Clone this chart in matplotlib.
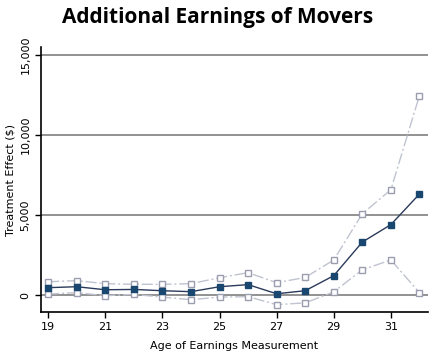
import matplotlib
matplotlib.use("Agg")
import matplotlib.pyplot as plt
from matplotlib.ticker import FuncFormatter

# data
ages = [19, 20, 21, 22, 23, 24, 25, 26, 27, 28, 29, 30, 31, 32]
effect = [460, 520, 330, 350, 270, 210, 520, 650, 80, 270, 1210, 3310, 4400, 6310]
upper = [830, 900, 710, 670, 670, 710, 1080, 1400, 770, 1100, 2190, 5080, 6580, 12460]
lower = [60, 150, -40, 40, -130, -290, -130, -100, -600, -490, 200, 1580, 2190, 150]

fig = plt.figure(figsize=(4.36, 3.52), dpi=100)
ax = fig.add_axes([41/436, 40/352, 387/436, 265/352])

plt.rcParams['font.family'] = ['Liberation Sans', 'DejaVu Sans']

ci_col = '#c0c4d0'
ci_edge = '#9a9eae'
main_col = '#1a476f'

ax.plot(ages, upper, color=ci_col, lw=1.0, linestyle=(0, (8, 2, 1.5, 2)),
        marker='s', markersize=4.2, markerfacecolor='white',
        markeredgecolor=ci_edge, markeredgewidth=1.0, zorder=3)
ax.plot(ages, lower, color=ci_col, lw=1.0, linestyle=(0, (8, 2, 1.5, 2)),
        marker='s', markersize=4.2, markerfacecolor='white',
        markeredgecolor=ci_edge, markeredgewidth=1.0, zorder=3)
ax.plot(ages, effect, color='#2a3a5a', lw=1.0, marker='s', markersize=4.8,
        markerfacecolor=main_col, markeredgecolor=main_col, zorder=4)

ax.set_xlim(18.75, 32.3)
ax.set_ylim(-1060, 15500)
ax.set_yticks([0, 5000, 10000, 15000])
ax.set_xticks([19, 21, 23, 25, 27, 29, 31])
ax.yaxis.set_major_formatter(FuncFormatter(lambda v, p: f"{int(v):,}"))
for y in [0, 5000, 10000, 15000]:
    ax.axhline(y, color='#7f7f7f', lw=1.2, zorder=1)

ax.spines['top'].set_visible(False)
ax.spines['right'].set_visible(False)
ax.spines['left'].set_linewidth(1.2)
ax.spines['bottom'].set_linewidth(1.2)
ax.tick_params(axis='both', direction='out', length=4, width=1, labelsize=8)
plt.setp(ax.get_yticklabels(), rotation=90, va='center')

ax.set_xlabel("Age of Earnings Measurement", fontsize=8, labelpad=6)
ax.set_ylabel("Treatment Effect ($)", fontsize=8, labelpad=4)

fig.text(0.5, 0.95, "Additional Earnings of Movers", ha='center', va='center',
         fontsize=15, fontweight='bold', family=['Open Sans', 'DejaVu Sans'])

fig.savefig("out.png", dpi=100)
